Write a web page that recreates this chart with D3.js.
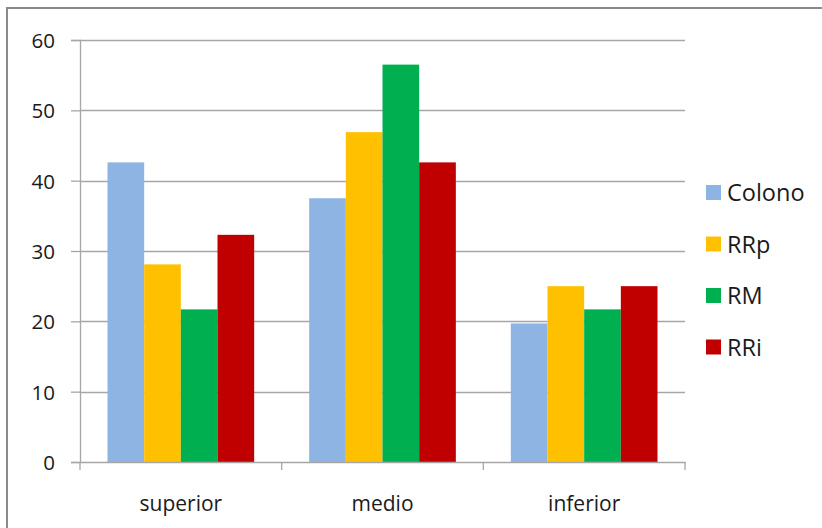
<!DOCTYPE html>
<html>
<head>
<meta charset="utf-8">
<script src="https://cdn.jsdelivr.net/npm/d3@7"></script>
<style>
  html, body { margin: 0; padding: 0; background: #fff; }
  svg { display: block; }
  text { font-family: "Open Sans", Lato, sans-serif; fill: #1a1a1a; }
</style>
</head>
<body>
<svg id="chart" width="822" height="528"></svg>
<script>
// Share (%) of each group by level
const categories = ["superior", "medio", "inferior"];
const seriesNames = ["Colono", "RRp", "RM", "RRi"];
const colono = [42.6, 37.5, 19.7];
const rrp = [28.1, 46.9, 25.0];
const rm = [21.7, 56.5, 21.7];
const rri = [32.3, 42.6, 25.0];
const seriesColors = ["#8eb4e3", "#ffc000", "#00b050", "#c00000"];
const yTicks = [0, 10, 20, 30, 40, 50, 60];

const seriesValues = [colono, rrp, rm, rri];
const rows = categories.map((c, i) => ({
  category: c,
  values: seriesNames.map((s, j) => ({ series: s, value: seriesValues[j][i] }))
}));

const FONT = "'Open Sans', Lato, sans-serif";
const svg = d3.select("#chart");

// outer frame (top and left edges visible)
svg.append("path")
  .attr("d", "M7,528 V8 H822")
  .attr("fill", "none")
  .attr("stroke", "#8a8a8a")
  .attr("stroke-width", 2);

const plot = { left: 80, right: 685, top: 40, bottom: 462 };

const x = d3.scaleBand()
  .domain(categories)
  .range([plot.left, plot.right])
  .paddingInner(0)
  .paddingOuter(0);

// gap between groups is 1.5 bar widths
const barW = x.bandwidth() / 5.5;
const xs = d3.scaleBand()
  .domain(seriesNames)
  .range([barW * 0.75, barW * 4.75]);

const y = d3.scaleLinear().domain([0, 60]).range([plot.bottom, plot.top]);

// horizontal gridlines
svg.append("g")
  .selectAll("line")
  .data(yTicks.filter(t => t > 0))
  .join("line")
  .attr("x1", plot.left)
  .attr("x2", plot.right)
  .attr("y1", d => Math.round(y(d)) + 0.5)
  .attr("y2", d => Math.round(y(d)) + 0.5)
  .attr("stroke", "#a6a6a6")
  .attr("stroke-width", 1.3);

// bars
const groups = svg.append("g")
  .selectAll("g")
  .data(rows)
  .join("g")
  .attr("transform", d => `translate(${x(d.category)},0)`);

groups.selectAll("rect")
  .data(d => d.values)
  .join("rect")
  .attr("x", d => xs(d.series))
  .attr("width", xs.bandwidth())
  .attr("y", d => y(d.value))
  .attr("height", d => y(0) - y(d.value))
  .attr("fill", (d, i) => seriesColors[i]);

// y axis
const yAxis = svg.append("g")
  .attr("transform", `translate(${plot.left},0)`)
  .call(d3.axisLeft(y).tickValues(yTicks).tickSize(9).tickPadding(16));
yAxis.attr("font-family", FONT).attr("font-size", 20.5);
yAxis.select(".domain").attr("stroke", "#a6a6a6").attr("stroke-width", 1.3);
yAxis.selectAll(".tick line").attr("stroke", "#a6a6a6").attr("stroke-width", 1.3);
yAxis.selectAll(".tick text")
  .attr("fill", "#1a1a1a")
  .attr("dy", "0.36em");

// x axis
const xAxis = svg.append("g")
  .attr("transform", `translate(0,${plot.bottom})`)
  .call(d3.axisBottom(x).tickSize(0).tickPadding(0));
xAxis.attr("font-family", FONT).attr("font-size", 21);
xAxis.select(".domain").attr("stroke", "#a6a6a6").attr("stroke-width", 1.3);
xAxis.selectAll(".tick text")
  .attr("fill", "#1a1a1a")
  .attr("y", 49)
  .attr("dy", 0);

// category separators below the axis
const sepX = categories.map(c => x(c)).concat([plot.right]);
svg.append("g")
  .selectAll("line")
  .data(sepX)
  .join("line")
  .attr("x1", d => d)
  .attr("x2", d => d)
  .attr("y1", plot.bottom)
  .attr("y2", plot.bottom + 8)
  .attr("stroke", "#a6a6a6")
  .attr("stroke-width", 1.3);

// legend
const legend = svg.append("g")
  .selectAll("g")
  .data(seriesNames)
  .join("g")
  .attr("transform", (d, i) => `translate(706,${193 + i * 51.5})`);

legend.append("rect")
  .attr("x", 0)
  .attr("y", -8)
  .attr("width", 15)
  .attr("height", 15)
  .attr("fill", (d, i) => seriesColors[i]);

legend.append("text")
  .attr("x", 21)
  .attr("y", 0)
  .attr("dy", "0.36em")
  .attr("font-size", 23.5)
  .text(d => d);
</script>
</body>
</html>
